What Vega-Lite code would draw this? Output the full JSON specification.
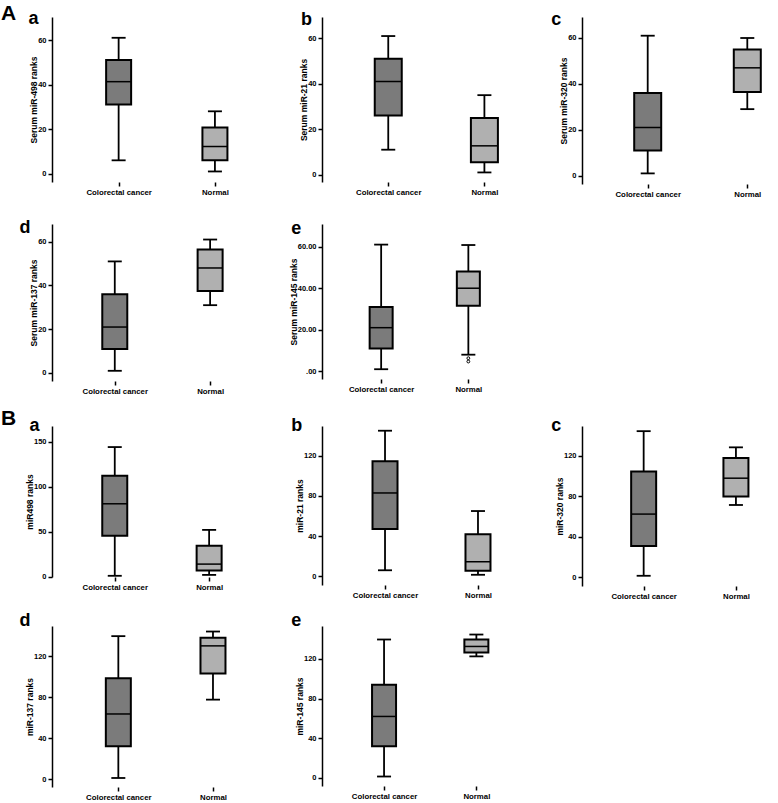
{
"$schema": "https://vega.github.io/schema/vega-lite/v6.json",
"padding": {"left": 1, "top": 3, "right": 0, "bottom": 0},
"datasets": {
"boxes": [
{"panel":"Aa","group":"Colorectal cancer","idx":0,"min":6,"q1":31,"median":41.3,"q3":51,"max":61},
{"panel":"Aa","group":"Normal","idx":1,"min":1,"q1":6,"median":12.2,"q3":20.7,"max":28},
{"panel":"Ab","group":"Colorectal cancer","idx":0,"min":11,"q1":26,"median":41,"q3":51,"max":61},
{"panel":"Ab","group":"Normal","idx":1,"min":1,"q1":5.5,"median":12.7,"q3":25,"max":35},
{"panel":"Ac","group":"Colorectal cancer","idx":0,"min":1,"q1":11,"median":21,"q3":36,"max":61},
{"panel":"Ac","group":"Normal","idx":1,"min":29,"q1":36.5,"median":47,"q3":55,"max":60},
{"panel":"Ad","group":"Colorectal cancer","idx":0,"min":1,"q1":11,"median":21,"q3":36,"max":51},
{"panel":"Ad","group":"Normal","idx":1,"min":31,"q1":37.5,"median":48,"q3":56.5,"max":61},
{"panel":"Ae","group":"Colorectal cancer","idx":0,"min":1,"q1":11,"median":21,"q3":31,"max":61},
{"panel":"Ae","group":"Normal","idx":1,"min":8,"q1":31.5,"median":40,"q3":48,"max":60.8},
{"panel":"Ba","group":"Colorectal cancer","idx":0,"min":1,"q1":45.5,"median":81,"q3":112,"max":144},
{"panel":"Ba","group":"Normal","idx":1,"min":2,"q1":7,"median":14,"q3":34.5,"max":52},
{"panel":"Bb","group":"Colorectal cancer","idx":0,"min":6,"q1":47,"median":83,"q3":114.5,"max":145},
{"panel":"Bb","group":"Normal","idx":1,"min":1.5,"q1":5.5,"median":14.5,"q3":42,"max":65},
{"panel":"Bc","group":"Colorectal cancer","idx":0,"min":1.5,"q1":31,"median":62.5,"q3":104.5,"max":144.5},
{"panel":"Bc","group":"Normal","idx":1,"min":71.5,"q1":80,"median":98,"q3":118,"max":128.5},
{"panel":"Bd","group":"Colorectal cancer","idx":0,"min":1,"q1":32,"median":63.5,"q3":98.5,"max":139.5},
{"panel":"Bd","group":"Normal","idx":1,"min":77.5,"q1":103,"median":130,"q3":138,"max":144},
{"panel":"Be","group":"Colorectal cancer","idx":0,"min":1.5,"q1":32,"median":62,"q3":94,"max":139.5},
{"panel":"Be","group":"Normal","idx":1,"min":122.5,"q1":126.5,"median":132.5,"q3":139.5,"max":144.5}
],
"outliers": [
{"panel":"Ae","idx":1,"value":6.3},
{"panel":"Ae","idx":1,"value":4.7}
]
},
"columns": 3,
"align": "each",
"bounds": "flush",
"spacing": {"row": 40, "column": 0},
"concat": [
{
"width": 270, "height": 165,
"title": {"text": "A", "fontSize": 21, "dx": -51, "dy": 19},
"data": {"name": "boxes"},
"transform": [{"filter": "datum.panel == 'Aa'"}],
"encoding": {"x": {"field": "idx", "type": "quantitative", "scale": {"domain": [-0.64, 2.06], "nice": false, "zero": false}, "axis": {"values": [0, 1], "domain": false, "title": "a", "titleX": -24, "titleY": -159, "labelExpr": "datum.value == 0 ? 'Colorectal cancer' : 'Normal'", "labelFlush": false}}},
"layer": [
{"mark": {"type": "rule", "color": "black", "strokeWidth": 1.8}, "encoding": {"y": {"field": "min", "type": "quantitative", "scale": {"domain": [-3.73, 70.33], "nice": false, "zero": false}, "axis": {"values": [0, 20, 40, 60], "title": "Serum miR-498 ranks"}}, "y2": {"field": "max"}}},
{"mark": {"type": "bar", "size": 25, "stroke": "black", "strokeWidth": 2}, "encoding": {"y": {"field": "q1", "type": "quantitative"}, "y2": {"field": "q3"}, "fill": {"field": "group", "type": "nominal", "scale": {"domain": ["Colorectal cancer", "Normal"], "range": ["#7b7b7b", "#b0b0b0"]}, "legend": null}}},
{"mark": {"type": "tick", "orient": "horizontal", "size": 25, "thickness": 1.5, "color": "black", "opacity": 1}, "encoding": {"y": {"field": "median", "type": "quantitative"}}},
{"mark": {"type": "tick", "orient": "horizontal", "size": 14, "thickness": 1.8, "color": "black", "opacity": 1}, "encoding": {"y": {"field": "min", "type": "quantitative"}}},
{"mark": {"type": "tick", "orient": "horizontal", "size": 14, "thickness": 1.8, "color": "black", "opacity": 1}, "encoding": {"y": {"field": "max", "type": "quantitative"}}},
{"data": {"values": [{}]}, "mark": {"type": "rule", "color": "black", "strokeWidth": 1.5}, "encoding": {"x": {"datum": -0.64}, "x2": {"datum": 1.18}, "y": {"datum": -3.73}}}
]
},
{
"width": 260, "height": 165,
"data": {"name": "boxes"},
"transform": [{"filter": "datum.panel == 'Ab'"}],
"encoding": {"x": {"field": "idx", "type": "quantitative", "scale": {"domain": [-0.637, 1.963], "nice": false, "zero": false}, "axis": {"values": [0, 1], "domain": false, "title": "b", "titleX": -21.5, "titleY": -158, "labelExpr": "datum.value == 0 ? 'Colorectal cancer' : 'Normal'", "labelFlush": false}}},
"layer": [
{"mark": {"type": "rule", "color": "black", "strokeWidth": 1.8}, "encoding": {"y": {"field": "min", "type": "quantitative", "scale": {"domain": [-3.21, 69.38], "nice": false, "zero": false}, "axis": {"values": [0, 20, 40, 60], "title": "Serum miR-21 ranks"}}, "y2": {"field": "max"}}},
{"mark": {"type": "bar", "size": 27, "stroke": "black", "strokeWidth": 2}, "encoding": {"y": {"field": "q1", "type": "quantitative"}, "y2": {"field": "q3"}, "fill": {"field": "group", "type": "nominal", "scale": {"domain": ["Colorectal cancer", "Normal"], "range": ["#7b7b7b", "#b0b0b0"]}, "legend": null}}},
{"mark": {"type": "tick", "orient": "horizontal", "size": 27, "thickness": 1.5, "color": "black", "opacity": 1}, "encoding": {"y": {"field": "median", "type": "quantitative"}}},
{"mark": {"type": "tick", "orient": "horizontal", "size": 14, "thickness": 1.8, "color": "black", "opacity": 1}, "encoding": {"y": {"field": "min", "type": "quantitative"}}},
{"mark": {"type": "tick", "orient": "horizontal", "size": 14, "thickness": 1.8, "color": "black", "opacity": 1}, "encoding": {"y": {"field": "max", "type": "quantitative"}}},
{"data": {"values": [{}]}, "mark": {"type": "rule", "color": "black", "strokeWidth": 1.5}, "encoding": {"x": {"datum": -0.637}, "x2": {"datum": 1.303}, "y": {"datum": -3.21}}}
]
},
{
"width": 194, "height": 167,
"data": {"name": "boxes"},
"transform": [{"filter": "datum.panel == 'Ac'"}],
"encoding": {"x": {"field": "idx", "type": "quantitative", "scale": {"domain": [-0.6095, 1.238], "nice": false, "zero": false}, "axis": {"values": [0, 1], "domain": false, "title": "c", "titleX": -31.3, "titleY": -160, "labelExpr": "datum.value == 0 ? 'Colorectal cancer' : 'Normal'", "labelFlush": false}}},
"layer": [
{"mark": {"type": "rule", "color": "black", "strokeWidth": 1.8}, "encoding": {"y": {"field": "min", "type": "quantitative", "scale": {"domain": [-3.62, 69.15], "nice": false, "zero": false}, "axis": {"values": [0, 20, 40, 60], "title": "Serum miR-320 ranks"}}, "y2": {"field": "max"}}},
{"mark": {"type": "bar", "size": 27, "stroke": "black", "strokeWidth": 2}, "encoding": {"y": {"field": "q1", "type": "quantitative"}, "y2": {"field": "q3"}, "fill": {"field": "group", "type": "nominal", "scale": {"domain": ["Colorectal cancer", "Normal"], "range": ["#7b7b7b", "#b0b0b0"]}, "legend": null}}},
{"mark": {"type": "tick", "orient": "horizontal", "size": 27, "thickness": 1.5, "color": "black", "opacity": 1}, "encoding": {"y": {"field": "median", "type": "quantitative"}}},
{"mark": {"type": "tick", "orient": "horizontal", "size": 14, "thickness": 1.8, "color": "black", "opacity": 1}, "encoding": {"y": {"field": "min", "type": "quantitative"}}},
{"mark": {"type": "tick", "orient": "horizontal", "size": 14, "thickness": 1.8, "color": "black", "opacity": 1}, "encoding": {"y": {"field": "max", "type": "quantitative"}}},
{"data": {"values": [{}]}, "mark": {"type": "rule", "color": "black", "strokeWidth": 1.5}, "encoding": {"x": {"datum": -0.6095}, "x2": {"datum": 1.238}, "y": {"datum": -3.62}}}
]
},
{
"width": 270, "height": 157,
"data": {"name": "boxes"},
"transform": [{"filter": "datum.panel == 'Ad'"}],
"encoding": {"x": {"field": "idx", "type": "quantitative", "scale": {"domain": [-0.606, 2.121], "nice": false, "zero": false}, "axis": {"values": [0, 1], "domain": false, "title": "d", "titleX": -33, "titleY": -148.7, "labelExpr": "datum.value == 0 ? 'Colorectal cancer' : 'Normal'", "labelFlush": false}}},
"layer": [
{"mark": {"type": "rule", "color": "black", "strokeWidth": 1.8}, "encoding": {"y": {"field": "min", "type": "quantitative", "scale": {"domain": [-3.66, 68.1], "nice": false, "zero": false}, "axis": {"values": [0, 20, 40, 60], "title": "Serum miR-137 ranks"}}, "y2": {"field": "max"}}},
{"mark": {"type": "bar", "size": 25, "stroke": "black", "strokeWidth": 2}, "encoding": {"y": {"field": "q1", "type": "quantitative"}, "y2": {"field": "q3"}, "fill": {"field": "group", "type": "nominal", "scale": {"domain": ["Colorectal cancer", "Normal"], "range": ["#7b7b7b", "#b0b0b0"]}, "legend": null}}},
{"mark": {"type": "tick", "orient": "horizontal", "size": 25, "thickness": 1.5, "color": "black", "opacity": 1}, "encoding": {"y": {"field": "median", "type": "quantitative"}}},
{"mark": {"type": "tick", "orient": "horizontal", "size": 14, "thickness": 1.8, "color": "black", "opacity": 1}, "encoding": {"y": {"field": "min", "type": "quantitative"}}},
{"mark": {"type": "tick", "orient": "horizontal", "size": 14, "thickness": 1.8, "color": "black", "opacity": 1}, "encoding": {"y": {"field": "max", "type": "quantitative"}}},
{"data": {"values": [{}]}, "mark": {"type": "rule", "color": "black", "strokeWidth": 1.5}, "encoding": {"x": {"datum": -0.606}, "x2": {"datum": 1.253}, "y": {"datum": -3.66}}}
]
},
{
"width": 260, "height": 155,
"data": {"name": "boxes"},
"transform": [{"filter": "datum.panel == 'Ae'"}],
"encoding": {"x": {"field": "idx", "type": "quantitative", "scale": {"domain": [-0.621, 2.246], "nice": false, "zero": false}, "axis": {"values": [0, 1], "domain": false, "title": "e", "titleX": -31.3, "titleY": -146, "labelExpr": "datum.value == 0 ? 'Colorectal cancer' : 'Normal'", "labelFlush": false}}},
"layer": [
{"mark": {"type": "rule", "color": "black", "strokeWidth": 1.8}, "encoding": {"y": {"field": "min", "type": "quantitative", "scale": {"domain": [-3.71, 70.92], "nice": false, "zero": false}, "axis": {"values": [0, 20, 40, 60], "title": "Serum miR-145 ranks", "labelExpr": "datum.value == 0 ? '.00' : format(datum.value, '.2f')"}}, "y2": {"field": "max"}}},
{"mark": {"type": "bar", "size": 23, "stroke": "black", "strokeWidth": 2}, "encoding": {"y": {"field": "q1", "type": "quantitative"}, "y2": {"field": "q3"}, "fill": {"field": "group", "type": "nominal", "scale": {"domain": ["Colorectal cancer", "Normal"], "range": ["#7b7b7b", "#b0b0b0"]}, "legend": null}}},
{"mark": {"type": "tick", "orient": "horizontal", "size": 23, "thickness": 1.5, "color": "black", "opacity": 1}, "encoding": {"y": {"field": "median", "type": "quantitative"}}},
{"mark": {"type": "tick", "orient": "horizontal", "size": 14, "thickness": 1.8, "color": "black", "opacity": 1}, "encoding": {"y": {"field": "min", "type": "quantitative"}}},
{"mark": {"type": "tick", "orient": "horizontal", "size": 14, "thickness": 1.8, "color": "black", "opacity": 1}, "encoding": {"y": {"field": "max", "type": "quantitative"}}},
{"data": {"name": "outliers"}, "transform": [{"filter": "datum.panel == 'Ae'"}], "mark": {"type": "point", "shape": "circle", "size": 8, "filled": false, "stroke": "black", "strokeWidth": 1, "opacity": 1}, "encoding": {"y": {"field": "value", "type": "quantitative"}}},
{"data": {"values": [{}]}, "mark": {"type": "rule", "color": "black", "strokeWidth": 1.5}, "encoding": {"x": {"datum": -0.621}, "x2": {"datum": 1.459}, "y": {"datum": -3.71}}}
]
},
{
"width": 194, "height": 162,
"data": {"values": [{"k": 0}]},
"mark": {"type": "point", "opacity": 0},
"encoding": {"x": {"field": "k", "type": "quantitative", "axis": null}, "y": {"field": "k", "type": "quantitative", "axis": null}}
},
{
"width": 270, "height": 151,
"title": {"text": "B", "fontSize": 21, "dx": -51, "dy": 16},
"data": {"name": "boxes"},
"transform": [{"filter": "datum.panel == 'Ba'"}],
"encoding": {"x": {"field": "idx", "type": "quantitative", "scale": {"domain": [-0.612, 2.143], "nice": false, "zero": false}, "axis": {"values": [0, 1], "domain": false, "title": "a", "titleX": -23, "titleY": -146.3, "labelExpr": "datum.value == 0 ? 'Colorectal cancer' : 'Normal'", "labelFlush": false}}},
"layer": [
{"mark": {"type": "rule", "color": "black", "strokeWidth": 1.8}, "encoding": {"y": {"field": "min", "type": "quantitative", "scale": {"domain": [-0.33, 167.4], "nice": false, "zero": false}, "axis": {"values": [0, 50, 100, 150], "title": "miR498 ranks"}}, "y2": {"field": "max"}}},
{"mark": {"type": "bar", "size": 25, "stroke": "black", "strokeWidth": 2}, "encoding": {"y": {"field": "q1", "type": "quantitative"}, "y2": {"field": "q3"}, "fill": {"field": "group", "type": "nominal", "scale": {"domain": ["Colorectal cancer", "Normal"], "range": ["#7b7b7b", "#b0b0b0"]}, "legend": null}}},
{"mark": {"type": "tick", "orient": "horizontal", "size": 25, "thickness": 1.5, "color": "black", "opacity": 1}, "encoding": {"y": {"field": "median", "type": "quantitative"}}},
{"mark": {"type": "tick", "orient": "horizontal", "size": 14, "thickness": 1.8, "color": "black", "opacity": 1}, "encoding": {"y": {"field": "min", "type": "quantitative"}}},
{"mark": {"type": "tick", "orient": "horizontal", "size": 14, "thickness": 1.8, "color": "black", "opacity": 1}, "encoding": {"y": {"field": "max", "type": "quantitative"}}},
{"data": {"values": [{}]}, "mark": {"type": "rule", "color": "black", "strokeWidth": 1.5}, "encoding": {"x": {"datum": -0.612}, "x2": {"datum": 1.378}, "y": {"datum": -0.33}}}
]
},
{
"width": 260, "height": 159,
"data": {"name": "boxes"},
"transform": [{"filter": "datum.panel == 'Bb'"}],
"encoding": {"x": {"field": "idx", "type": "quantitative", "scale": {"domain": [-0.624, 2.065], "nice": false, "zero": false}, "axis": {"values": [0, 1], "domain": false, "title": "b", "titleX": -31.3, "titleY": -154.3, "labelExpr": "datum.value == 0 ? 'Colorectal cancer' : 'Normal'", "labelFlush": false}}},
"layer": [
{"mark": {"type": "rule", "color": "black", "strokeWidth": 1.8}, "encoding": {"y": {"field": "min", "type": "quantitative", "scale": {"domain": [-8.67, 149.7], "nice": false, "zero": false}, "axis": {"values": [0, 20, 40, 60, 80, 100, 120, 140], "title": "miR-21 ranks"}}, "y2": {"field": "max"}}},
{"mark": {"type": "bar", "size": 25, "stroke": "black", "strokeWidth": 2}, "encoding": {"y": {"field": "q1", "type": "quantitative"}, "y2": {"field": "q3"}, "fill": {"field": "group", "type": "nominal", "scale": {"domain": ["Colorectal cancer", "Normal"], "range": ["#7b7b7b", "#b0b0b0"]}, "legend": null}}},
{"mark": {"type": "tick", "orient": "horizontal", "size": 25, "thickness": 1.5, "color": "black", "opacity": 1}, "encoding": {"y": {"field": "median", "type": "quantitative"}}},
{"mark": {"type": "tick", "orient": "horizontal", "size": 14, "thickness": 1.8, "color": "black", "opacity": 1}, "encoding": {"y": {"field": "min", "type": "quantitative"}}},
{"mark": {"type": "tick", "orient": "horizontal", "size": 14, "thickness": 1.8, "color": "black", "opacity": 1}, "encoding": {"y": {"field": "max", "type": "quantitative"}}},
{"data": {"values": [{}]}, "mark": {"type": "rule", "color": "black", "strokeWidth": 1.5}, "encoding": {"x": {"datum": -0.624}, "x2": {"datum": 1.379}, "y": {"datum": -8.67}}}
]
},
{
"width": 194, "height": 160,
"data": {"name": "boxes"},
"transform": [{"filter": "datum.panel == 'Bc'"}],
"encoding": {"x": {"field": "idx", "type": "quantitative", "scale": {"domain": [-0.614, 1.38], "nice": false, "zero": false}, "axis": {"values": [0, 1], "domain": false, "title": "c", "titleX": -31.3, "titleY": -155.3, "labelExpr": "datum.value == 0 ? 'Colorectal cancer' : 'Normal'", "labelFlush": false}}},
"layer": [
{"mark": {"type": "rule", "color": "black", "strokeWidth": 1.8}, "encoding": {"y": {"field": "min", "type": "quantitative", "scale": {"domain": [-8.6, 149.6], "nice": false, "zero": false}, "axis": {"values": [0, 20, 40, 60, 80, 100, 120, 140], "title": "miR-320 ranks"}}, "y2": {"field": "max"}}},
{"mark": {"type": "bar", "size": 25, "stroke": "black", "strokeWidth": 2}, "encoding": {"y": {"field": "q1", "type": "quantitative"}, "y2": {"field": "q3"}, "fill": {"field": "group", "type": "nominal", "scale": {"domain": ["Colorectal cancer", "Normal"], "range": ["#7b7b7b", "#b0b0b0"]}, "legend": null}}},
{"mark": {"type": "tick", "orient": "horizontal", "size": 25, "thickness": 1.5, "color": "black", "opacity": 1}, "encoding": {"y": {"field": "median", "type": "quantitative"}}},
{"mark": {"type": "tick", "orient": "horizontal", "size": 14, "thickness": 1.8, "color": "black", "opacity": 1}, "encoding": {"y": {"field": "min", "type": "quantitative"}}},
{"mark": {"type": "tick", "orient": "horizontal", "size": 14, "thickness": 1.8, "color": "black", "opacity": 1}, "encoding": {"y": {"field": "max", "type": "quantitative"}}},
{"data": {"values": [{}]}, "mark": {"type": "rule", "color": "black", "strokeWidth": 1.5}, "encoding": {"x": {"datum": -0.614}, "x2": {"datum": 1.38}, "y": {"datum": -8.6}}}
]
},
{
"width": 270, "height": 161,
"data": {"name": "boxes"},
"transform": [{"filter": "datum.panel == 'Bd'"}],
"encoding": {"x": {"field": "idx", "type": "quantitative", "scale": {"domain": [-0.648, 2.099], "nice": false, "zero": false}, "axis": {"values": [0, 1], "domain": false, "title": "d", "titleX": -33, "titleY": -161.3, "labelExpr": "datum.value == 0 ? 'Colorectal cancer' : 'Normal'", "labelFlush": false}}},
"layer": [
{"mark": {"type": "rule", "color": "black", "strokeWidth": 1.8}, "encoding": {"y": {"field": "min", "type": "quantitative", "scale": {"domain": [-7.8, 149.4], "nice": false, "zero": false}, "axis": {"values": [0, 20, 40, 60, 80, 100, 120, 140], "title": "miR-137 ranks"}}, "y2": {"field": "max"}}},
{"mark": {"type": "bar", "size": 25, "stroke": "black", "strokeWidth": 2}, "encoding": {"y": {"field": "q1", "type": "quantitative"}, "y2": {"field": "q3"}, "fill": {"field": "group", "type": "nominal", "scale": {"domain": ["Colorectal cancer", "Normal"], "range": ["#7b7b7b", "#b0b0b0"]}, "legend": null}}},
{"mark": {"type": "tick", "orient": "horizontal", "size": 25, "thickness": 1.5, "color": "black", "opacity": 1}, "encoding": {"y": {"field": "median", "type": "quantitative"}}},
{"mark": {"type": "tick", "orient": "horizontal", "size": 14, "thickness": 1.8, "color": "black", "opacity": 1}, "encoding": {"y": {"field": "min", "type": "quantitative"}}},
{"mark": {"type": "tick", "orient": "horizontal", "size": 14, "thickness": 1.8, "color": "black", "opacity": 1}, "encoding": {"y": {"field": "max", "type": "quantitative"}}},
{"data": {"values": [{}]}, "mark": {"type": "rule", "color": "black", "strokeWidth": 1.5}, "encoding": {"x": {"datum": -0.648}, "x2": {"datum": 1.322}, "y": {"datum": -7.8}}}
]
},
{
"width": 260, "height": 160,
"data": {"name": "boxes"},
"transform": [{"filter": "datum.panel == 'Be'"}],
"encoding": {"x": {"field": "idx", "type": "quantitative", "scale": {"domain": [-0.618, 2.09], "nice": false, "zero": false}, "axis": {"values": [0, 1], "domain": false, "title": "e", "titleX": -31.3, "titleY": -160.3, "labelExpr": "datum.value == 0 ? 'Colorectal cancer' : 'Normal'", "labelFlush": false}}},
"layer": [
{"mark": {"type": "rule", "color": "black", "strokeWidth": 1.8}, "encoding": {"y": {"field": "min", "type": "quantitative", "scale": {"domain": [-8.06, 153.1], "nice": false, "zero": false}, "axis": {"values": [0, 20, 40, 60, 80, 100, 120, 140], "title": "miR-145 ranks"}}, "y2": {"field": "max"}}},
{"mark": {"type": "bar", "size": 24, "stroke": "black", "strokeWidth": 2}, "encoding": {"y": {"field": "q1", "type": "quantitative"}, "y2": {"field": "q3"}, "fill": {"field": "group", "type": "nominal", "scale": {"domain": ["Colorectal cancer", "Normal"], "range": ["#7b7b7b", "#b0b0b0"]}, "legend": null}}},
{"mark": {"type": "tick", "orient": "horizontal", "size": 24, "thickness": 1.5, "color": "black", "opacity": 1}, "encoding": {"y": {"field": "median", "type": "quantitative"}}},
{"mark": {"type": "tick", "orient": "horizontal", "size": 14, "thickness": 1.8, "color": "black", "opacity": 1}, "encoding": {"y": {"field": "min", "type": "quantitative"}}},
{"mark": {"type": "tick", "orient": "horizontal", "size": 14, "thickness": 1.8, "color": "black", "opacity": 1}, "encoding": {"y": {"field": "max", "type": "quantitative"}}},
{"data": {"values": [{}]}, "mark": {"type": "rule", "color": "black", "strokeWidth": 1.5}, "encoding": {"x": {"datum": -0.618}, "x2": {"datum": 1.4}, "y": {"datum": -8.06}}}
]
}
],
"config": {
"font": "Liberation Sans",
"view": {"stroke": null},
"title": {"font": "Liberation Sans", "fontSize": 21, "fontWeight": "bold", "color": "black", "anchor": "start", "frame": "group", "orient": "top", "offset": 0, "baseline": "alphabetic"},
"axis": {"grid": false, "domainColor": "black", "domainWidth": 1.5, "tickColor": "black", "tickWidth": 1.5, "tickSize": 4, "labelColor": "black", "labelFont": "Liberation Sans", "labelFontWeight": "bold", "labelFontSize": 7.5, "labelPadding": 2, "labelOverlap": false, "titleColor": "black", "titleFont": "Liberation Sans", "titleFontWeight": "bold", "titleFontSize": 8.5, "titlePadding": -1},
"axisX": {"labelFontSize": 7.8, "titleFontSize": 18, "titleAlign": "left", "titleBaseline": "alphabetic", "titleAngle": 0}
}
}
